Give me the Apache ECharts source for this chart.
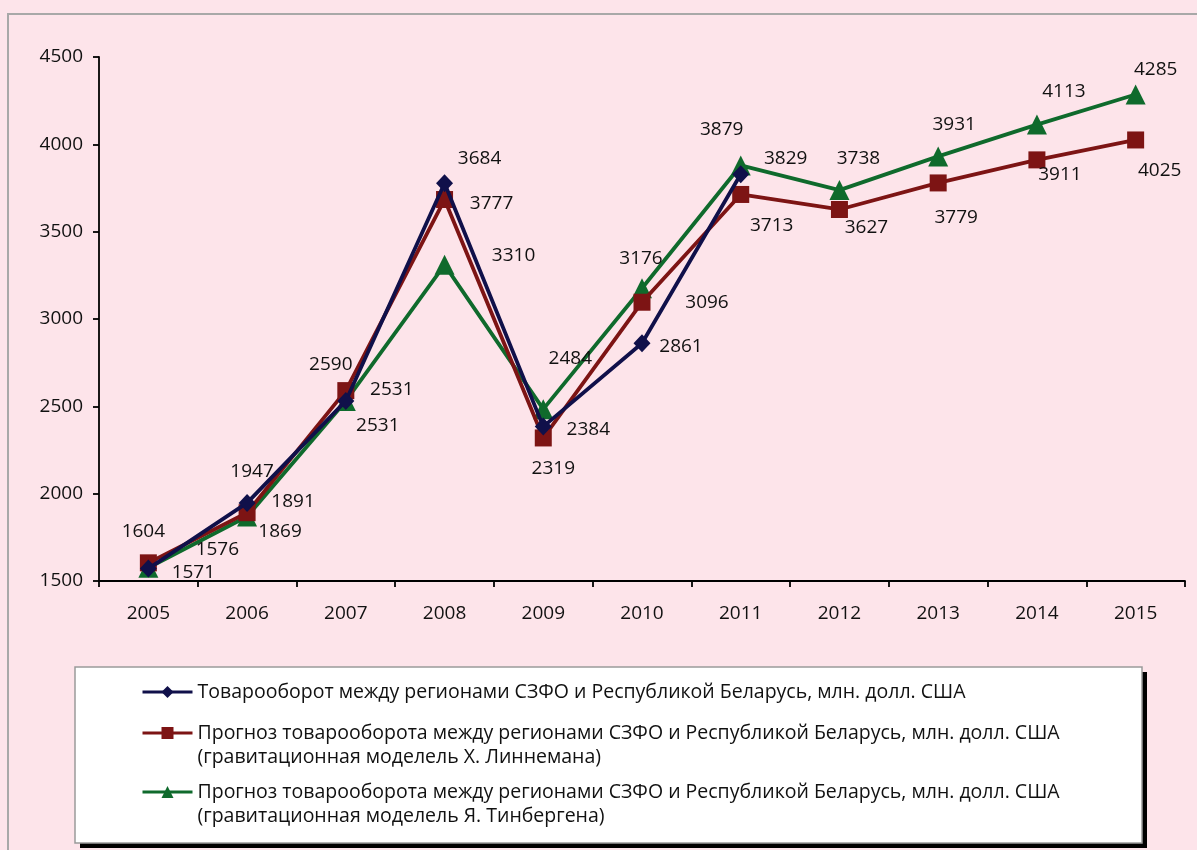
<!DOCTYPE html>
<html>
<head>
<meta charset="utf-8">
<script src="https://cdn.jsdelivr.net/npm/echarts@6/dist/echarts.min.js"></script>
<style>
  html, body { margin: 0; padding: 0; background: #fde4ea; }
  #chart { width: 1197px; height: 850px; }
</style>
</head>
<body>
<div id="chart"></div>
<script>
// categories and values
const years = ["2005", "2006", "2007", "2008", "2009", "2010", "2011", "2012", "2013", "2014", "2015"];
const actual = [1571, 1947, 2531, 3777, 2384, 2861, 3829, null, null, null, null];
const linnemann = [1604, 1891, 2590, 3684, 2319, 3096, 3713, 3627, 3779, 3911, 4025];
const tinbergen = [1576, 1869, 2531, 3310, 2484, 3176, 3879, 3738, 3931, 4113, 4285];
const names = [
  "Товарооборот между регионами СЗФО и Республикой Беларусь, млн. долл. США",
  "Прогноз товарооборота между регионами СЗФО и Республикой Беларусь, млн. долл. США\n(гравитационная моделель Х. Линнемана)",
  "Прогноз товарооборота между регионами СЗФО и Республикой Беларусь, млн. долл. США\n(гравитационная моделель Я. Тинбергена)",
];

// where each value label sits relative to its marker (as in the original)
const labelOffsets = [
  [[45, 4], [5, -31], [46, -11], [47, 20], [45, 3], [39, 3], [45, -16]],
  [[-5, -31], [46, -11], [-15, -26], [35, -41], [10, 31], [65, 0], [31, 31], [27, 18], [18, 35], [23, 15], [24, 31]],
  [[69, -18], [33, 15], [32, 25], [69, -9], [27, -51], [-1, -30], [-19, -36], [19, -32], [16, -32], [27, -33], [20, -25]],
];

const font = "'Open Sans', sans-serif";
const colors = ["#10104a", "#7d1414", "#0f6a2c"];
const symbols = ["diamond", "rect", "triangle"];
const symbolSizes = [[17, 18], 17, 20];

const chart = echarts.init(document.getElementById("chart"));

function makeSeries(values, i) {
  return {
    name: names[i],
    type: "line",
    data: values.map((v, j) =>
      v === null
        ? null
        : { value: v, label: { offset: labelOffsets[i][j] || [0, -20] } },
    ),
    symbol: symbols[i],
    symbolSize: symbolSizes[i],
    lineStyle: { width: 3.8, color: colors[i] },
    itemStyle: { color: colors[i] },
    label: {
      show: true,
      position: "inside",
      color: "#111",
      fontFamily: font,
      fontSize: 19,
    },
    z: 10 - i,
    animation: false,
  };
}

// an empty first line keeps the icon level with the first text line
function legendFor(i, top) {
  const multi = names[i].includes("\n");
  return {
    data: [names[i]],
    orient: "vertical",
    left: 141,
    top: top,
    padding: 0,
    itemWidth: 50,
    itemHeight: 15,
    selectedMode: false,
    lineStyle: { width: 3 },
    formatter: (n) => (multi ? "\u00a0\n" + n : n),
    textStyle: {
      fontFamily: font,
      fontSize: 19.5,
      color: "#111",
      lineHeight: 24,
    },
  };
}

chart.setOption({
  backgroundColor: "#fde4ea",
  color: colors,
  animation: false,
  grid: { left: 99, right: 12, top: 57, bottom: 269 },
  graphic: [
    {
      type: "rect",
      shape: { x: 8, y: 14, width: 1200, height: 900 },
      style: { fill: "none", stroke: "#a8a8a8", lineWidth: 2 },
      z: -10,
    },
    {
      type: "rect",
      shape: { x: 80, y: 672, width: 1067, height: 176 },
      style: { fill: "#000" },
      z: -6,
    },
    {
      type: "rect",
      shape: { x: 75, y: 667, width: 1067, height: 176 },
      style: { fill: "#ffffff", stroke: "#9a9a9a", lineWidth: 1.5 },
      z: -5,
    },
  ],
  legend: [legendFor(0, 680), legendFor(1, 697), legendFor(2, 756)],
  xAxis: {
    type: "category",
    data: years,
    boundaryGap: true,
    axisLine: { lineStyle: { color: "#000", width: 1.8 } },
    axisTick: { show: true, inside: false, length: 6, lineStyle: { color: "#000", width: 1.8 } },
    axisLabel: { color: "#111", fontFamily: font, fontSize: 19, margin: 23 },
    splitLine: { show: false },
  },
  yAxis: {
    type: "value",
    min: 1500,
    max: 4500,
    interval: 500,
    axisLine: { show: true, lineStyle: { color: "#000", width: 1.8 } },
    axisTick: { show: true, inside: false, length: 6, lineStyle: { color: "#000", width: 1.8 } },
    axisLabel: { color: "#111", fontFamily: font, fontSize: 19, margin: 16, formatter: (v) => String(v) },
    splitLine: { show: false },
  },
  series: [makeSeries(actual, 0), makeSeries(linnemann, 1), makeSeries(tinbergen, 2)],
});
</script>
</body>
</html>
